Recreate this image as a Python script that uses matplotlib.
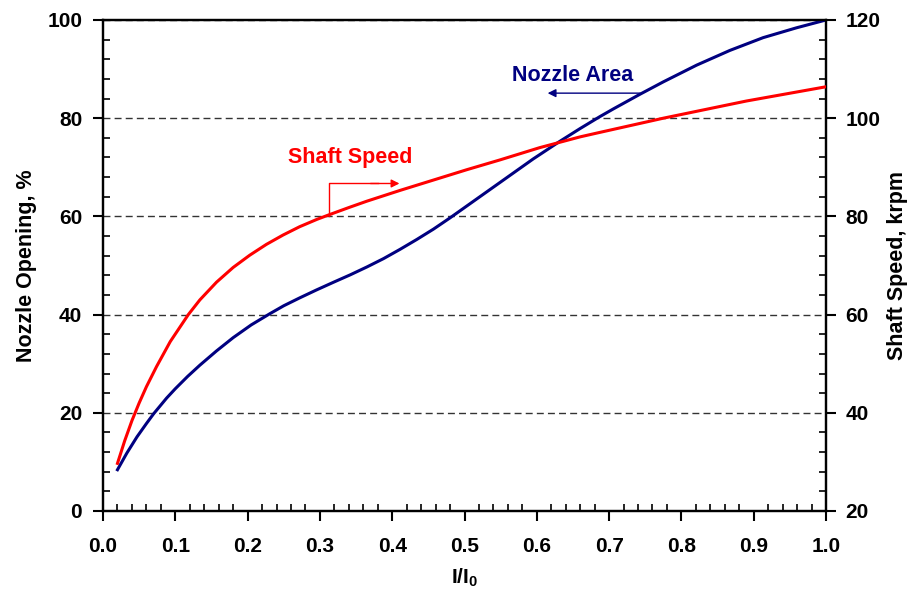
import matplotlib
matplotlib.use('Agg')
import matplotlib.pyplot as plt
from matplotlib.ticker import MultipleLocator

plt.rcParams['font.family'] = ['Liberation Sans', 'DejaVu Sans']
plt.rcParams['font.weight'] = 'bold'
plt.rcParams['mathtext.fontset'] = 'custom'
plt.rcParams['mathtext.rm'] = 'Liberation Sans:bold'
plt.rcParams['mathtext.bf'] = 'Liberation Sans:bold'

# Nozzle area (left axis, %)
area_x = [0.02, 0.033, 0.047, 0.06, 0.07, 0.088, 0.10, 0.117, 0.134, 0.157, 0.18,
          0.205, 0.231, 0.25, 0.272, 0.295, 0.319, 0.342, 0.365, 0.388, 0.411,
          0.434, 0.457, 0.48, 0.503, 0.526, 0.549, 0.572, 0.595, 0.632, 0.66,
          0.687, 0.706, 0.743, 0.775, 0.821, 0.867, 0.913, 0.959, 1.0]
area_y = [8.4, 11.8, 15.1, 17.8, 19.8, 23.0, 24.9, 27.4, 29.7, 32.6, 35.3,
          37.9, 40.2, 41.8, 43.4, 45.0, 46.6, 48.1, 49.7, 51.4, 53.3,
          55.3, 57.4, 59.7, 62.1, 64.5, 66.9, 69.3, 71.7, 75.3, 77.9,
          80.3, 81.9, 84.9, 87.4, 90.8, 93.8, 96.4, 98.4, 100.0]

# Shaft speed (right axis, krpm)
speed_x = [0.02, 0.03, 0.04, 0.05, 0.06, 0.074, 0.093, 0.118, 0.134, 0.157, 0.18,
           0.203, 0.226, 0.249, 0.272, 0.296, 0.314, 0.34, 0.365, 0.411, 0.457,
           0.503, 0.549, 0.604, 0.632, 0.66, 0.687, 0.775, 0.89, 1.0]
speed_y = [29.7, 34.3, 38.4, 42.0, 45.3, 49.4, 54.5, 60.0, 63.0, 66.6, 69.6,
           72.1, 74.3, 76.2, 77.9, 79.4, 80.4, 81.8, 83.1, 85.3, 87.4,
           89.5, 91.5, 94.0, 95.1, 96.2, 97.1, 100.0, 103.5, 106.4]

fig = plt.figure(figsize=(9.1, 5.93), dpi=100)
ax = fig.add_axes([0.1132, 0.1383, 0.7945, 0.828])
ax2 = ax.twinx()

ax.plot(area_x, area_y, color='#000080', lw=2.2, zorder=3, solid_joinstyle='round')
ax2.plot(speed_x, speed_y, color='#ff0000', lw=2.2, zorder=3, solid_joinstyle='round')

ax.set_xlim(0, 1)
ax.set_ylim(0, 100)
ax2.set_ylim(20, 120)

ax.xaxis.set_major_locator(MultipleLocator(0.1))
ax.xaxis.set_minor_locator(MultipleLocator(0.02))
ax.yaxis.set_major_locator(MultipleLocator(20))
ax.yaxis.set_minor_locator(MultipleLocator(4))
ax2.yaxis.set_major_locator(MultipleLocator(20))
ax2.yaxis.set_minor_locator(MultipleLocator(4))
ax.xaxis.set_major_formatter(plt.FormatStrFormatter('%.1f'))

ax.tick_params(axis='x', which='major', direction='out', length=7, width=1.5,
               labelsize=15, pad=12)
ax.tick_params(axis='x', which='minor', direction='in', length=5, width=1.2, top=False)
ax.tick_params(axis='y', which='major', direction='out', length=7, width=1.5,
               labelsize=15, pad=8)
ax.tick_params(axis='y', which='minor', direction='in', length=5, width=1.2)
ax2.tick_params(axis='y', which='major', direction='out', length=7, width=1.5,
                labelsize=15, pad=7)
ax2.tick_params(axis='y', which='minor', direction='in', length=5, width=1.2)

ax.grid(axis='y', which='major', color='0.2', linestyle=(0, (5, 3)), lw=1)

for a in (ax, ax2):
    for s in a.spines.values():
        s.set_linewidth(1.6)

ax.set_ylabel('Nozzle Opening, %', fontsize=15.5, fontweight='bold', labelpad=7)
ax2.set_ylabel('Shaft Speed, krpm', fontsize=15.5, fontweight='bold', labelpad=5)
ax.set_xlabel(r'I/I$_\mathbf{0}$', fontsize=15, fontweight='bold', labelpad=7)

# annotations
ax.text(0.342, 72.0, 'Shaft Speed', color='#ff0000', fontsize=15.5,
        fontweight='bold', ha='center', va='center')
ax.plot([0.312, 0.312, 0.38], [60.0, 66.7, 66.7], color='#ff0000', lw=1)
ax.annotate('', xy=(0.41, 66.7), xytext=(0.37, 66.7),
            arrowprops=dict(arrowstyle='-|>', color='#ff0000', lw=1,
                            mutation_scale=12, shrinkA=0, shrinkB=0))

ax.text(0.649, 88.6, 'Nozzle Area', color='#000080', fontsize=15.5,
        fontweight='bold', ha='center', va='center')
ax.annotate('', xy=(0.615, 85.1), xytext=(0.743, 85.1),
            arrowprops=dict(arrowstyle='-|>', color='#000080', lw=1,
                            mutation_scale=12, shrinkA=0, shrinkB=0))

fig.savefig('out.png', dpi=100)
